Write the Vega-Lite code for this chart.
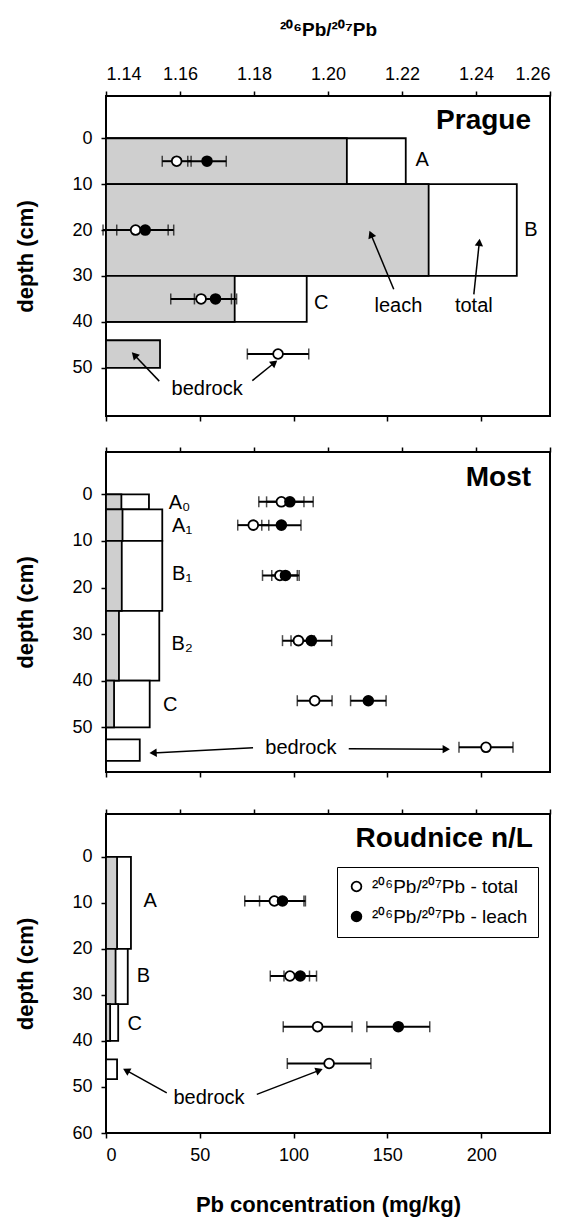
{
  "$schema": "https://vega.github.io/schema/vega-lite/v6.json",
  "background": "white",
  "padding": {"left": 13, "top": 19, "right": 5, "bottom": 5},
  "config": {
    "font": "Liberation Sans",
    "view": {"stroke": "black", "strokeWidth": 2},
    "axis": {"grid": false, "domain": false, "tickColor": "black", "tickWidth": 1.5, "tickSize": 5, "labelColor": "black", "labelFontSize": 18, "labelFont": "Liberation Sans", "titleColor": "black", "titleFont": "Liberation Sans", "titleFontWeight": "bold", "titleFontSize": 22},
    "text": {"font": "Liberation Sans", "color": "black"}
  },
  "resolve": {"scale": {"fill": "independent"}, "legend": {"fill": "independent"}},
  "datasets": {
    "bars": [
      {"site": "Prague", "horizon": "A", "top": 0, "bottom": 10, "leach": 128.4, "total": 159.8},
      {"site": "Prague", "horizon": "B", "top": 10, "bottom": 30, "leach": 172, "total": 219},
      {"site": "Prague", "horizon": "C", "top": 30, "bottom": 40, "leach": 68.6, "total": 107},
      {"site": "Prague", "horizon": "bedrock", "top": 44, "bottom": 50, "leach": 28.8, "total": null},
      {"site": "Most", "horizon": "A0", "top": 0, "bottom": 3.2, "leach": 8.2, "total": 22.9},
      {"site": "Most", "horizon": "A1", "top": 3.2, "bottom": 10, "leach": 8.8, "total": 30},
      {"site": "Most", "horizon": "B1", "top": 10, "bottom": 25, "leach": 8.4, "total": 30},
      {"site": "Most", "horizon": "B2", "top": 25, "bottom": 40, "leach": 6.9, "total": 28.4},
      {"site": "Most", "horizon": "C", "top": 40, "bottom": 50, "leach": 4.3, "total": 23.3},
      {"site": "Most", "horizon": "bedrock", "top": 52.6, "bottom": 57.2, "leach": null, "total": 18},
      {"site": "Roudnice", "horizon": "A", "top": 0, "bottom": 20, "leach": 5.9, "total": 13.3},
      {"site": "Roudnice", "horizon": "B", "top": 20, "bottom": 32, "leach": 5.1, "total": 11.6},
      {"site": "Roudnice", "horizon": "C", "top": 32, "bottom": 40, "leach": 2.2, "total": 6.5},
      {"site": "Roudnice", "horizon": "bedrock", "top": 44, "bottom": 48.3, "leach": null, "total": 5.9}
    ],
    "points": [
      {"site": "Prague", "depth": 5, "kind": "²⁰⁶Pb/²⁰⁷Pb - total", "ratio": 1.1591, "err": 0.0039},
      {"site": "Prague", "depth": 5, "kind": "²⁰⁶Pb/²⁰⁷Pb - leach", "ratio": 1.1673, "err": 0.0052},
      {"site": "Prague", "depth": 20, "kind": "²⁰⁶Pb/²⁰⁷Pb - total", "ratio": 1.148, "err": 0.0088},
      {"site": "Prague", "depth": 20, "kind": "²⁰⁶Pb/²⁰⁷Pb - leach", "ratio": 1.1506, "err": 0.0077},
      {"site": "Prague", "depth": 35, "kind": "²⁰⁶Pb/²⁰⁷Pb - total", "ratio": 1.1657, "err": 0.0082},
      {"site": "Prague", "depth": 35, "kind": "²⁰⁶Pb/²⁰⁷Pb - leach", "ratio": 1.1696, "err": 0.0057},
      {"site": "Prague", "depth": 47, "kind": "²⁰⁶Pb/²⁰⁷Pb - total", "ratio": 1.1865, "err": 0.0083},
      {"site": "Most", "depth": 1.6, "kind": "²⁰⁶Pb/²⁰⁷Pb - total", "ratio": 1.1874, "err": 0.0061},
      {"site": "Most", "depth": 1.6, "kind": "²⁰⁶Pb/²⁰⁷Pb - leach", "ratio": 1.1897, "err": 0.0063},
      {"site": "Most", "depth": 6.6, "kind": "²⁰⁶Pb/²⁰⁷Pb - total", "ratio": 1.1798, "err": 0.0042},
      {"site": "Most", "depth": 6.6, "kind": "²⁰⁶Pb/²⁰⁷Pb - leach", "ratio": 1.1874, "err": 0.0053},
      {"site": "Most", "depth": 17.4, "kind": "²⁰⁶Pb/²⁰⁷Pb - total", "ratio": 1.187, "err": 0.0047},
      {"site": "Most", "depth": 17.4, "kind": "²⁰⁶Pb/²⁰⁷Pb - leach", "ratio": 1.1885, "err": 0.0037},
      {"site": "Most", "depth": 31.4, "kind": "²⁰⁶Pb/²⁰⁷Pb - total", "ratio": 1.192, "err": 0.0043},
      {"site": "Most", "depth": 31.4, "kind": "²⁰⁶Pb/²⁰⁷Pb - leach", "ratio": 1.1955, "err": 0.0055},
      {"site": "Most", "depth": 44.3, "kind": "²⁰⁶Pb/²⁰⁷Pb - total", "ratio": 1.1964, "err": 0.0047},
      {"site": "Most", "depth": 44.3, "kind": "²⁰⁶Pb/²⁰⁷Pb - leach", "ratio": 1.2109, "err": 0.0048},
      {"site": "Most", "depth": 54.3, "kind": "²⁰⁶Pb/²⁰⁷Pb - total", "ratio": 1.2427, "err": 0.0073},
      {"site": "Roudnice", "depth": 9.6, "kind": "²⁰⁶Pb/²⁰⁷Pb - total", "ratio": 1.1855, "err": 0.008},
      {"site": "Roudnice", "depth": 9.6, "kind": "²⁰⁶Pb/²⁰⁷Pb - leach", "ratio": 1.1877, "err": 0.0062},
      {"site": "Roudnice", "depth": 25.9, "kind": "²⁰⁶Pb/²⁰⁷Pb - total", "ratio": 1.1897, "err": 0.0053},
      {"site": "Roudnice", "depth": 25.9, "kind": "²⁰⁶Pb/²⁰⁷Pb - leach", "ratio": 1.1925, "err": 0.0044},
      {"site": "Roudnice", "depth": 36.9, "kind": "²⁰⁶Pb/²⁰⁷Pb - total", "ratio": 1.1972, "err": 0.0093},
      {"site": "Roudnice", "depth": 36.9, "kind": "²⁰⁶Pb/²⁰⁷Pb - leach", "ratio": 1.219, "err": 0.0085},
      {"site": "Roudnice", "depth": 44.9, "kind": "²⁰⁶Pb/²⁰⁷Pb - total", "ratio": 1.2003, "err": 0.0113}
    ],
    "labels": [
      {"site": "Prague", "text": "A", "conc": 168.6, "depth": 4.7},
      {"site": "Prague", "text": "B", "conc": 226.5, "depth": 19.9},
      {"site": "Prague", "text": "C", "conc": 114.7, "depth": 35.8},
      {"site": "Prague", "text": "leach", "conc": 155.9, "depth": 36.6},
      {"site": "Prague", "text": "total", "conc": 196.1, "depth": 36.6},
      {"site": "Prague", "text": "bedrock", "conc": 53.9, "depth": 54.7},
      {"site": "Most", "text": "A₀", "conc": 39.2, "depth": 1.8},
      {"site": "Most", "text": "A₁", "conc": 40.6, "depth": 6.8},
      {"site": "Most", "text": "B₁", "conc": 40.6, "depth": 17.0},
      {"site": "Most", "text": "B₂", "conc": 40.6, "depth": 32.2},
      {"site": "Most", "text": "C", "conc": 34.3, "depth": 45.3},
      {"site": "Most", "text": "bedrock", "conc": 103.9, "depth": 54.4},
      {"site": "Roudnice", "text": "A", "conc": 23.5, "depth": 9.6},
      {"site": "Roudnice", "text": "B", "conc": 20.0, "depth": 25.8},
      {"site": "Roudnice", "text": "C", "conc": 15.3, "depth": 36.4},
      {"site": "Roudnice", "text": "bedrock", "conc": 54.9, "depth": 52.5}
    ],
    "titles": [
      {"site": "Prague", "text": "Prague", "conc": 226.6, "depth": -3.8},
      {"site": "Most", "text": "Most", "conc": 226.6, "depth": -3.6},
      {"site": "Roudnice", "text": "Roudnice n/L", "conc": 227.6, "depth": -3.9}
    ],
    "arrows": [
      {"site": "Prague", "conc": 153.4, "depth": 32.9, "conc2": 141.2, "depth2": 20.9, "angle": 337},
      {"site": "Prague", "conc": 196.1, "depth": 34.0, "conc2": 199.0, "depth2": 22.7, "angle": 6},
      {"site": "Prague", "conc": 28.4, "depth": 52.9, "conc2": 15.1, "depth2": 47.2, "angle": 316},
      {"site": "Prague", "conc": 78.0, "depth": 52.8, "conc2": 89.8, "depth2": 48.9, "angle": 51},
      {"site": "Most", "conc": 78.4, "depth": 54.4, "conc2": 25.1, "depth2": 55.5, "angle": 267},
      {"site": "Most", "conc": 129.4, "depth": 54.6, "conc2": 181.4, "depth2": 54.7, "angle": 90},
      {"site": "Roudnice", "conc": 32.4, "depth": 51.3, "conc2": 10.8, "depth2": 46.4, "angle": 299},
      {"site": "Roudnice", "conc": 80.4, "depth": 51.6, "conc2": 113.7, "depth2": 46.4, "angle": 69}
    ]
  },
  "spacing": 22,
  "vconcat": [
    {
      "width": 444, "height": 320,
      "resolve": {"scale": {"x": "independent"}},
      "layer": [
        {
          "layer": [
            {
              "data": {"name": "bars"},
              "transform": [{"filter": "datum.site == 'Prague'"}],
              "mark": {"type": "rect", "fill": "white", "stroke": "black", "strokeWidth": 1.8},
              "encoding": {
                "x": {"field": "total", "type": "quantitative", "scale": {"domain": [0, 236.7], "nice": false, "zero": false}, "title": null,
                      "axis": {"orient": "bottom", "values": [0, 50, 100, 150, 200], "labels": false, "title": null}},
                "x2": {"datum": 0},
                "y": {"field": "top", "type": "quantitative", "scale": {"domain": [-9.2, 60.5], "nice": false, "zero": false, "reverse": true}, "title": "depth (cm)",
                      "axis": {"values": [0, 10, 20, 30, 40, 50], "titlePadding": 34, "labelPadding": 9}},
                "y2": {"field": "bottom"}
              }
            },
            {
              "data": {"name": "bars"},
              "transform": [{"filter": "datum.site == 'Prague'"}],
              "mark": {"type": "rect", "fill": "#cfcfcf", "stroke": "black", "strokeWidth": 1.8},
              "encoding": {
                "x": {"field": "leach", "type": "quantitative", "title": null},
                "x2": {"datum": 0},
                "y": {"field": "top", "type": "quantitative", "title": "depth (cm)"},
                "y2": {"field": "bottom"}
              }
            },
            {
              "data": {"name": "labels"},
              "transform": [{"filter": "datum.site == 'Prague'"}],
              "mark": {"type": "text", "fontSize": 20, "align": "center", "baseline": "middle"},
              "encoding": {
                "x": {"field": "conc", "type": "quantitative", "title": null},
                "y": {"field": "depth", "type": "quantitative", "title": "depth (cm)"},
                "text": {"field": "text"}
              }
            },
            {
              "data": {"name": "titles"},
              "transform": [{"filter": "datum.site == 'Prague'"}],
              "mark": {"type": "text", "fontSize": 28, "fontWeight": "bold", "align": "right", "baseline": "middle"},
              "encoding": {
                "x": {"field": "conc", "type": "quantitative", "title": null},
                "y": {"field": "depth", "type": "quantitative", "title": "depth (cm)"},
                "text": {"field": "text"}
              }
            },
            {
              "data": {"name": "arrows"},
              "transform": [{"filter": "datum.site == 'Prague'"}],
              "mark": {"type": "rule", "color": "black", "strokeWidth": 1.5},
              "encoding": {
                "x": {"field": "conc", "type": "quantitative", "title": null},
                "x2": {"field": "conc2"},
                "y": {"field": "depth", "type": "quantitative", "title": "depth (cm)"},
                "y2": {"field": "depth2"}
              }
            },
            {
              "data": {"name": "arrows"},
              "transform": [{"filter": "datum.site == 'Prague'"}],
              "mark": {"type": "point", "shape": "triangle-up", "filled": true, "color": "black", "size": 70, "opacity": 1},
              "encoding": {
                "x": {"field": "conc2", "type": "quantitative", "title": null},
                "y": {"field": "depth2", "type": "quantitative", "title": "depth (cm)"},
                "angle": {"field": "angle", "type": "quantitative", "scale": null}
              }
            }
          ]
        },
        {
          "data": {"name": "points"},
          "transform": [{"filter": "datum.site == 'Prague'"}],
          "layer": [
            {
              "mark": {"type": "errorbar", "ticks": {"size": 11, "thickness": 1.5, "color": "black"}, "thickness": 2, "color": "black"},
              "encoding": {
                "x": {"field": "ratio", "type": "quantitative", "scale": {"domain": [1.14, 1.26], "nice": false, "zero": false}, "title": "²⁰⁶Pb/²⁰⁷Pb",
                      "axis": {"orient": "top", "values": [1.14, 1.16, 1.18, 1.2, 1.22, 1.24, 1.26], "format": ".2f", "labelPadding": 8, "titleFontSize": 19, "titlePadding": 26}},
                "xError": {"field": "err"},
                "y": {"field": "depth", "type": "quantitative", "title": "depth (cm)"}
              }
            },
            {
              "mark": {"type": "point", "shape": "circle", "filled": false, "stroke": "black", "strokeWidth": 1.8, "size": 95, "opacity": 1},
              "encoding": {
                "x": {"field": "ratio", "type": "quantitative", "title": "²⁰⁶Pb/²⁰⁷Pb"},
                "y": {"field": "depth", "type": "quantitative", "title": "depth (cm)"},
                "fill": {"field": "kind", "type": "nominal", "scale": {"domain": ["²⁰⁶Pb/²⁰⁷Pb - total", "²⁰⁶Pb/²⁰⁷Pb - leach"], "range": ["white", "black"]}, "legend": null}
              }
            }
          ]
        }
      ]
    },
    {
      "width": 444, "height": 320,
      "resolve": {"scale": {"x": "independent"}},
      "layer": [
        {
          "layer": [
            {
              "data": {"name": "bars"},
              "transform": [{"filter": "datum.site == 'Most'"}],
              "mark": {"type": "rect", "fill": "white", "stroke": "black", "strokeWidth": 1.8},
              "encoding": {
                "x": {"field": "total", "type": "quantitative", "scale": {"domain": [0, 236.7], "nice": false, "zero": false}, "title": null,
                      "axis": {"orient": "bottom", "values": [0, 50, 100, 150, 200], "labels": true, "labelColor": "transparent", "labelFontSize": 5, "labelPadding": 2, "title": null}},
                "x2": {"datum": 0},
                "y": {"field": "top", "type": "quantitative", "scale": {"domain": [-9.1, 59.6], "nice": false, "zero": false, "reverse": true}, "title": "depth (cm)",
                      "axis": {"values": [0, 10, 20, 30, 40, 50], "titlePadding": 34, "labelPadding": 9}},
                "y2": {"field": "bottom"}
              }
            },
            {
              "data": {"name": "bars"},
              "transform": [{"filter": "datum.site == 'Most'"}],
              "mark": {"type": "rect", "fill": "#cfcfcf", "stroke": "black", "strokeWidth": 1.8},
              "encoding": {
                "x": {"field": "leach", "type": "quantitative", "title": null},
                "x2": {"datum": 0},
                "y": {"field": "top", "type": "quantitative", "title": "depth (cm)"},
                "y2": {"field": "bottom"}
              }
            },
            {
              "data": {"name": "labels"},
              "transform": [{"filter": "datum.site == 'Most'"}],
              "mark": {"type": "text", "fontSize": 20, "align": "center", "baseline": "middle"},
              "encoding": {
                "x": {"field": "conc", "type": "quantitative", "title": null},
                "y": {"field": "depth", "type": "quantitative", "title": "depth (cm)"},
                "text": {"field": "text"}
              }
            },
            {
              "data": {"name": "titles"},
              "transform": [{"filter": "datum.site == 'Most'"}],
              "mark": {"type": "text", "fontSize": 28, "fontWeight": "bold", "align": "right", "baseline": "middle"},
              "encoding": {
                "x": {"field": "conc", "type": "quantitative", "title": null},
                "y": {"field": "depth", "type": "quantitative", "title": "depth (cm)"},
                "text": {"field": "text"}
              }
            },
            {
              "data": {"name": "arrows"},
              "transform": [{"filter": "datum.site == 'Most'"}],
              "mark": {"type": "rule", "color": "black", "strokeWidth": 1.5},
              "encoding": {
                "x": {"field": "conc", "type": "quantitative", "title": null},
                "x2": {"field": "conc2"},
                "y": {"field": "depth", "type": "quantitative", "title": "depth (cm)"},
                "y2": {"field": "depth2"}
              }
            },
            {
              "data": {"name": "arrows"},
              "transform": [{"filter": "datum.site == 'Most'"}],
              "mark": {"type": "point", "shape": "triangle-up", "filled": true, "color": "black", "size": 70, "opacity": 1},
              "encoding": {
                "x": {"field": "conc2", "type": "quantitative", "title": null},
                "y": {"field": "depth2", "type": "quantitative", "title": "depth (cm)"},
                "angle": {"field": "angle", "type": "quantitative", "scale": null}
              }
            }
          ]
        },
        {
          "data": {"name": "points"},
          "transform": [{"filter": "datum.site == 'Most'"}],
          "layer": [
            {
              "mark": {"type": "errorbar", "ticks": {"size": 11, "thickness": 1.5, "color": "black"}, "thickness": 2, "color": "black"},
              "encoding": {
                "x": {"field": "ratio", "type": "quantitative", "scale": {"domain": [1.14, 1.26], "nice": false, "zero": false}, "title": null,
                      "axis": {"orient": "top", "values": [1.14, 1.16, 1.18, 1.2, 1.22, 1.24, 1.26], "labels": false, "title": null}},
                "xError": {"field": "err"},
                "y": {"field": "depth", "type": "quantitative", "title": "depth (cm)"}
              }
            },
            {
              "mark": {"type": "point", "shape": "circle", "filled": false, "stroke": "black", "strokeWidth": 1.8, "size": 95, "opacity": 1},
              "encoding": {
                "x": {"field": "ratio", "type": "quantitative", "title": null},
                "y": {"field": "depth", "type": "quantitative", "title": "depth (cm)"},
                "fill": {"field": "kind", "type": "nominal", "scale": {"domain": ["²⁰⁶Pb/²⁰⁷Pb - total", "²⁰⁶Pb/²⁰⁷Pb - leach"], "range": ["white", "black"]}, "legend": null}
              }
            }
          ]
        }
      ]
    },
    {
      "width": 444, "height": 319,
      "resolve": {"scale": {"x": "independent"}},
      "layer": [
        {
          "layer": [
            {
              "data": {"name": "bars"},
              "transform": [{"filter": "datum.site == 'Roudnice'"}],
              "mark": {"type": "rect", "fill": "white", "stroke": "black", "strokeWidth": 1.8},
              "encoding": {
                "x": {"field": "total", "type": "quantitative", "scale": {"domain": [0, 236.7], "nice": false, "zero": false}, "title": "Pb concentration (mg/kg)",
                      "axis": {"orient": "bottom", "values": [0, 50, 100, 150, 200], "labelPadding": 8, "titlePadding": 30}},
                "x2": {"datum": 0},
                "y": {"field": "top", "type": "quantitative", "scale": {"domain": [-9.3, 60], "nice": false, "zero": false, "reverse": true}, "title": "depth (cm)",
                      "axis": {"values": [0, 10, 20, 30, 40, 50, 60], "titlePadding": 34, "labelPadding": 9}},
                "y2": {"field": "bottom"}
              }
            },
            {
              "data": {"name": "bars"},
              "transform": [{"filter": "datum.site == 'Roudnice'"}],
              "mark": {"type": "rect", "fill": "#cfcfcf", "stroke": "black", "strokeWidth": 1.8},
              "encoding": {
                "x": {"field": "leach", "type": "quantitative", "title": "Pb concentration (mg/kg)"},
                "x2": {"datum": 0},
                "y": {"field": "top", "type": "quantitative", "title": "depth (cm)"},
                "y2": {"field": "bottom"}
              }
            },
            {
              "data": {"name": "labels"},
              "transform": [{"filter": "datum.site == 'Roudnice'"}],
              "mark": {"type": "text", "fontSize": 20, "align": "center", "baseline": "middle"},
              "encoding": {
                "x": {"field": "conc", "type": "quantitative", "title": "Pb concentration (mg/kg)"},
                "y": {"field": "depth", "type": "quantitative", "title": "depth (cm)"},
                "text": {"field": "text"}
              }
            },
            {
              "data": {"name": "titles"},
              "transform": [{"filter": "datum.site == 'Roudnice'"}],
              "mark": {"type": "text", "fontSize": 28, "fontWeight": "bold", "align": "right", "baseline": "middle"},
              "encoding": {
                "x": {"field": "conc", "type": "quantitative", "title": "Pb concentration (mg/kg)"},
                "y": {"field": "depth", "type": "quantitative", "title": "depth (cm)"},
                "text": {"field": "text"}
              }
            },
            {
              "data": {"name": "arrows"},
              "transform": [{"filter": "datum.site == 'Roudnice'"}],
              "mark": {"type": "rule", "color": "black", "strokeWidth": 1.5},
              "encoding": {
                "x": {"field": "conc", "type": "quantitative", "title": "Pb concentration (mg/kg)"},
                "x2": {"field": "conc2"},
                "y": {"field": "depth", "type": "quantitative", "title": "depth (cm)"},
                "y2": {"field": "depth2"}
              }
            },
            {
              "data": {"name": "arrows"},
              "transform": [{"filter": "datum.site == 'Roudnice'"}],
              "mark": {"type": "point", "shape": "triangle-up", "filled": true, "color": "black", "size": 70, "opacity": 1},
              "encoding": {
                "x": {"field": "conc2", "type": "quantitative", "title": "Pb concentration (mg/kg)"},
                "y": {"field": "depth2", "type": "quantitative", "title": "depth (cm)"},
                "angle": {"field": "angle", "type": "quantitative", "scale": null}
              }
            }
          ]
        },
        {
          "data": {"name": "points"},
          "transform": [{"filter": "datum.site == 'Roudnice'"}],
          "layer": [
            {
              "mark": {"type": "errorbar", "ticks": {"size": 11, "thickness": 1.5, "color": "black"}, "thickness": 2, "color": "black"},
              "encoding": {
                "x": {"field": "ratio", "type": "quantitative", "scale": {"domain": [1.14, 1.26], "nice": false, "zero": false}, "title": null,
                      "axis": {"orient": "top", "values": [1.14, 1.16, 1.18, 1.2, 1.22, 1.24, 1.26], "labels": false, "title": null}},
                "xError": {"field": "err"},
                "y": {"field": "depth", "type": "quantitative", "title": "depth (cm)"}
              }
            },
            {
              "mark": {"type": "point", "shape": "circle", "filled": false, "stroke": "black", "strokeWidth": 1.8, "size": 95, "opacity": 1},
              "encoding": {
                "x": {"field": "ratio", "type": "quantitative", "title": null},
                "y": {"field": "depth", "type": "quantitative", "title": "depth (cm)"},
                "fill": {"field": "kind", "type": "nominal", "title": null,
                         "scale": {"domain": ["²⁰⁶Pb/²⁰⁷Pb - total", "²⁰⁶Pb/²⁰⁷Pb - leach"], "range": ["white", "black"]},
                         "legend": {"orient": "none", "legendX": 231, "legendY": 53, "title": null, "symbolType": "circle", "symbolSize": 95, "symbolStrokeColor": "black", "symbolStrokeWidth": 1.8, "labelFontSize": 19, "labelColor": "black", "labelFont": "Liberation Sans", "strokeColor": "black", "fillColor": "white", "padding": 10, "rowPadding": 10, "labelOffset": 6, "labelLimit": 300}}
              }
            }
          ]
        }
      ]
    }
  ]
}
